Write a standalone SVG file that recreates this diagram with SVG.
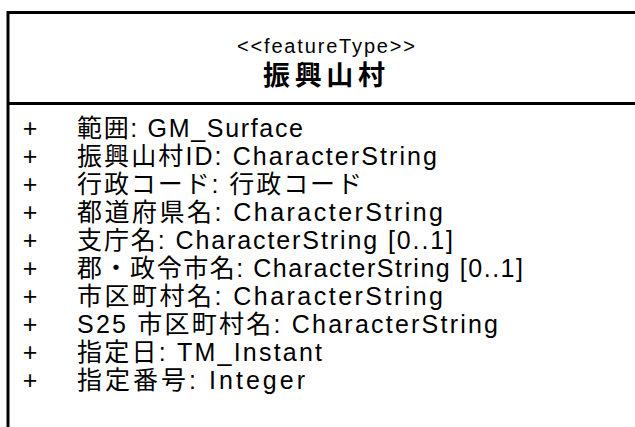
<svg xmlns="http://www.w3.org/2000/svg" width="635" height="427" viewBox="0 0 635 427">
<style>
.box{fill:#fff;stroke:#000;stroke-width:3}
.t{font-family:"Liberation Sans","Noto Sans CJK JP",sans-serif;fill:#000}
.st{font-size:20px}
.nm{font-size:27px;font-weight:bold}
.at{font-size:25px}
</style>
<rect width="635" height="427" fill="#fff"/>
<g id="class-shinkou-sanson">
<rect class="box" x="8" y="12.5" width="700" height="500"/>
<line x1="8" y1="103.5" x2="708" y2="103.5" stroke="#000" stroke-width="3"/>
<text class="t st" x="326" y="53" text-anchor="middle" textLength="178" lengthAdjust="spacing">&lt;&lt;featureType&gt;&gt;</text>
<text class="t nm" x="324" y="85" text-anchor="middle" textLength="122" lengthAdjust="spacing">振興山村</text>
<g class="t at">
<text x="30" y="137" text-anchor="middle">+</text>
<text x="77" y="137" textLength="226" lengthAdjust="spacing">範囲: GM_Surface</text>
<text x="30" y="165" text-anchor="middle">+</text>
<text x="77" y="165" textLength="360" lengthAdjust="spacing">振興山村ID: CharacterString</text>
<text x="30" y="193" text-anchor="middle">+</text>
<text x="77" y="193" textLength="285" lengthAdjust="spacing">行政コード: 行政コード</text>
<text x="30" y="221" text-anchor="middle">+</text>
<text x="77" y="221" textLength="366" lengthAdjust="spacing">都道府県名: CharacterString</text>
<text x="30" y="249" text-anchor="middle">+</text>
<text x="77" y="249" textLength="376" lengthAdjust="spacing">支庁名: CharacterString [0..1]</text>
<text x="30" y="277" text-anchor="middle">+</text>
<text x="77" y="277" textLength="446" lengthAdjust="spacing">郡・政令市名: CharacterString [0..1]</text>
<text x="30" y="305" text-anchor="middle">+</text>
<text x="77" y="305" textLength="366" lengthAdjust="spacing">市区町村名: CharacterString</text>
<text x="30" y="333" text-anchor="middle">+</text>
<text x="77" y="333" textLength="421" lengthAdjust="spacing">S25 市区町村名: CharacterString</text>
<text x="30" y="361" text-anchor="middle">+</text>
<text x="77" y="361" textLength="245" lengthAdjust="spacing">指定日: TM_Instant</text>
<text x="30" y="389" text-anchor="middle">+</text>
<text x="77" y="389" textLength="228" lengthAdjust="spacing">指定番号: Integer</text>
</g>
</g>
<g id="connectors"/>
</svg>
